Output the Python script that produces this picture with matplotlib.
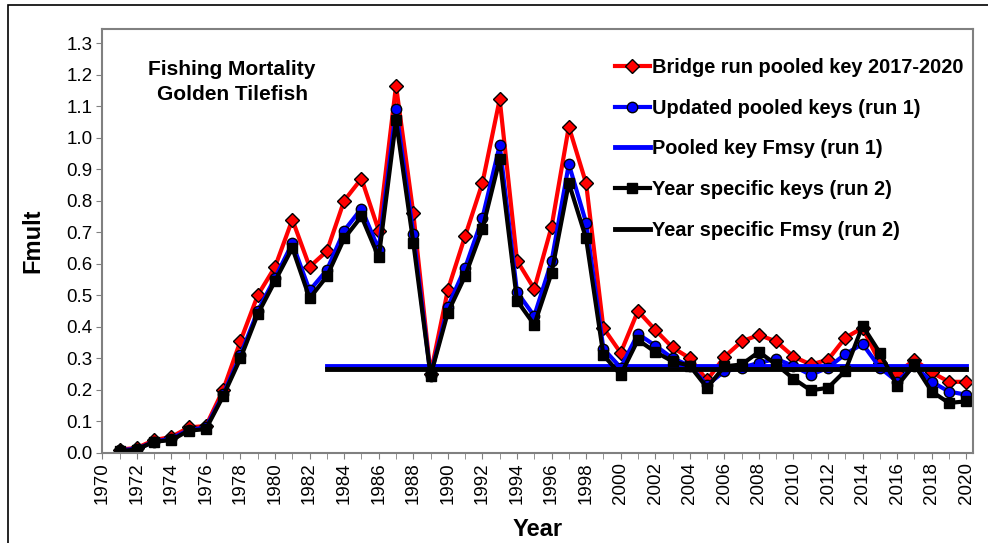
import matplotlib.pyplot as plt
from matplotlib.patches import Rectangle

plt.rcParams['font.family'] = ['Liberation Sans', 'DejaVu Sans']

years = list(range(1971, 2021))

bridge = [0.010, 0.015, 0.040, 0.050, 0.080, 0.085, 0.200, 0.355, 0.500, 0.590,
          0.740, 0.590, 0.640, 0.800, 0.870, 0.705, 1.165, 0.760, 0.250, 0.517,
          0.688, 0.856, 1.122, 0.610, 0.520, 0.717, 1.035, 0.855, 0.396, 0.317,
          0.450, 0.390, 0.334, 0.300, 0.230, 0.304, 0.353, 0.374, 0.353, 0.305,
          0.280, 0.295, 0.365, 0.396, 0.285, 0.253, 0.295, 0.255, 0.225, 0.225]

pooled = [0.008, 0.012, 0.035, 0.045, 0.072, 0.080, 0.185, 0.310, 0.450, 0.555,
          0.665, 0.515, 0.580, 0.705, 0.775, 0.645, 1.090, 0.695, 0.245, 0.463,
          0.587, 0.745, 0.976, 0.510, 0.434, 0.607, 0.916, 0.730, 0.330, 0.270,
          0.377, 0.340, 0.300, 0.276, 0.215, 0.258, 0.270, 0.285, 0.298, 0.275,
          0.247, 0.270, 0.313, 0.345, 0.270, 0.226, 0.275, 0.225, 0.194, 0.184]

year_spec = [0.005, 0.010, 0.035, 0.040, 0.070, 0.075, 0.180, 0.300, 0.440, 0.545,
             0.650, 0.490, 0.560, 0.680, 0.750, 0.620, 1.055, 0.667, 0.245, 0.445,
             0.561, 0.710, 0.932, 0.483, 0.406, 0.570, 0.856, 0.680, 0.310, 0.247,
             0.358, 0.320, 0.290, 0.276, 0.206, 0.274, 0.280, 0.320, 0.280, 0.235,
             0.198, 0.206, 0.260, 0.403, 0.317, 0.212, 0.280, 0.194, 0.158, 0.163]

fmsy_years = [1983, 2020]
fmsy_pooled = [0.275, 0.275]
fmsy_year_spec = [0.265, 0.265]

labels = ["Bridge run pooled key 2017-2020", "Updated pooled keys (run 1)",
          "Pooled key Fmsy (run 1)", "Year specific keys (run 2)",
          "Year specific Fmsy (run 2)"]

fig = plt.figure(figsize=(9.88, 5.43), dpi=100)
ax = fig.add_axes([0.1035, 0.1663, 0.8815, 0.7803])

ax.plot(years, bridge, color='red', lw=3, marker='D', ms=7.5, mfc='red', mec='black', mew=1,
        label=labels[0])
ax.plot(years, pooled, color='blue', lw=3, marker='o', ms=7.5, mfc='blue', mec='black', mew=1,
        label=labels[1])
ax.plot(fmsy_years, fmsy_pooled, color='blue', lw=3.5, label=labels[2])
ax.plot(years, year_spec, color='black', lw=3, marker='s', ms=7.5, mfc='black', mec='black',
        label=labels[3])
ax.plot(fmsy_years, fmsy_year_spec, color='black', lw=3.5, label=labels[4])

ax.set_xlim(1970, 2020.4)
ax.set_ylim(0, 1.345)
ax.set_xticks(range(1970, 2021, 2))
ax.set_xticks(range(1970, 2021), minor=True)
ax.set_yticks([i / 10 for i in range(14)])
ax.set_yticklabels([f"{i / 10:.1f}" for i in range(14)])
ax.tick_params(axis='x', which='both', direction='out', length=4, color='#808080',
               labelrotation=90, labelsize=13.5, pad=3)
ax.tick_params(axis='y', direction='out', length=4, color='#808080', labelsize=13.5, pad=3)
for s in ax.spines.values():
    s.set_color('#808080')
    s.set_linewidth(1.5)

ax.set_xlabel("Year", fontsize=17, fontweight='bold', labelpad=10)
ax.set_ylabel("Fmult", fontsize=17, fontweight='bold', labelpad=16)

ax.text(0.149, 0.875, "Fishing Mortality\nGolden Tilefish", transform=ax.transAxes,
        ha='center', va='center', fontsize=15, fontweight='bold', linespacing=1.35)

leg = ax.legend(loc='upper right', bbox_to_anchor=(1.005, 0.964), frameon=False, numpoints=1,
                prop={'size': 14.4, 'weight': 'bold'}, handlelength=1.75, handletextpad=0.12,
                labelspacing=1.08, borderpad=0.2)

fig.add_artist(Rectangle((8 / 988, -0.1), 1.2, 1.1 - 5 / 543, transform=fig.transFigure,
                         fill=False, ec='black', lw=1.2))

fig.savefig("out.png", dpi=100)
